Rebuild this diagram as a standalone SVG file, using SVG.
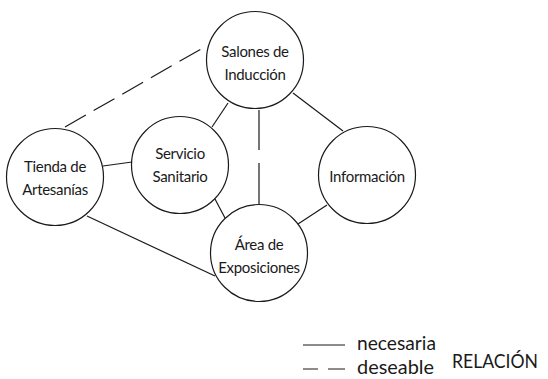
<svg xmlns="http://www.w3.org/2000/svg" width="548" height="379" viewBox="0 0 548 379">
<style>
.n{fill:#fff;stroke:#1a1a1a;stroke-width:1.2}
.t{font-family:Lato,"Noto Sans",sans-serif;font-size:15px;fill:#1a1a1a;text-anchor:middle;letter-spacing:-0.3px}
.c{stroke:#1a1a1a;stroke-width:1.2;fill:none}
.d{stroke-dasharray:24 9}
.l{font-family:Lato,"Noto Sans",sans-serif;fill:#1a1a1a}
</style>
<rect width="548" height="379" fill="#fff"/>
<g id="connectors">
<line class="c d" x1="65" y1="127" x2="208" y2="45"/>
<line class="c" x1="228" y1="103" x2="212" y2="127"/>
<path class="c" d="M259 110 V150 M259 163 V204"/>
<line class="c" x1="293" y1="93" x2="343" y2="131"/>
<line class="c" x1="103" y1="166" x2="132" y2="162"/>
<line class="c" x1="215" y1="199" x2="225" y2="218"/>
<line class="c" x1="327" y1="205" x2="298" y2="224"/>
<line class="c" x1="87" y1="216" x2="215" y2="276"/>
</g>
<g id="salones"><circle class="n" cx="255" cy="60" r="48.5"/><text class="t" x="255" y="57">Salones de</text><text class="t" x="255" y="80">Inducción</text></g>
<g id="tienda"><circle class="n" cx="55" cy="177" r="48.5"/><text class="t" x="55" y="172">Tienda de</text><text class="t" x="55" y="195">Artesanías</text></g>
<g id="servicio"><circle class="n" cx="180" cy="165" r="48.5"/><text class="t" x="180" y="159">Servicio</text><text class="t" x="180" y="182">Sanitario</text></g>
<g id="informacion"><circle class="n" cx="367" cy="175" r="48.5"/><text class="t" x="367" y="182">Información</text></g>
<g id="area"><circle class="n" cx="259" cy="253" r="48.5"/><text class="t" x="259" y="250">Área de</text><text class="t" x="259" y="273">Exposiciones</text></g>
<g id="legend">
<line class="c" x1="303" y1="345" x2="345" y2="345"/>
<path class="c" d="M303 369 H318 M328 369 H345"/>
<text class="l" x="357" y="350" font-size="19" textLength="79" lengthAdjust="spacingAndGlyphs">necesaria</text>
<text class="l" x="357" y="374" font-size="19" textLength="77" lengthAdjust="spacingAndGlyphs">deseable</text>
<text class="l" x="452" y="368" font-size="19" textLength="86" lengthAdjust="spacingAndGlyphs">RELACIÓN</text>
</g>
</svg>
